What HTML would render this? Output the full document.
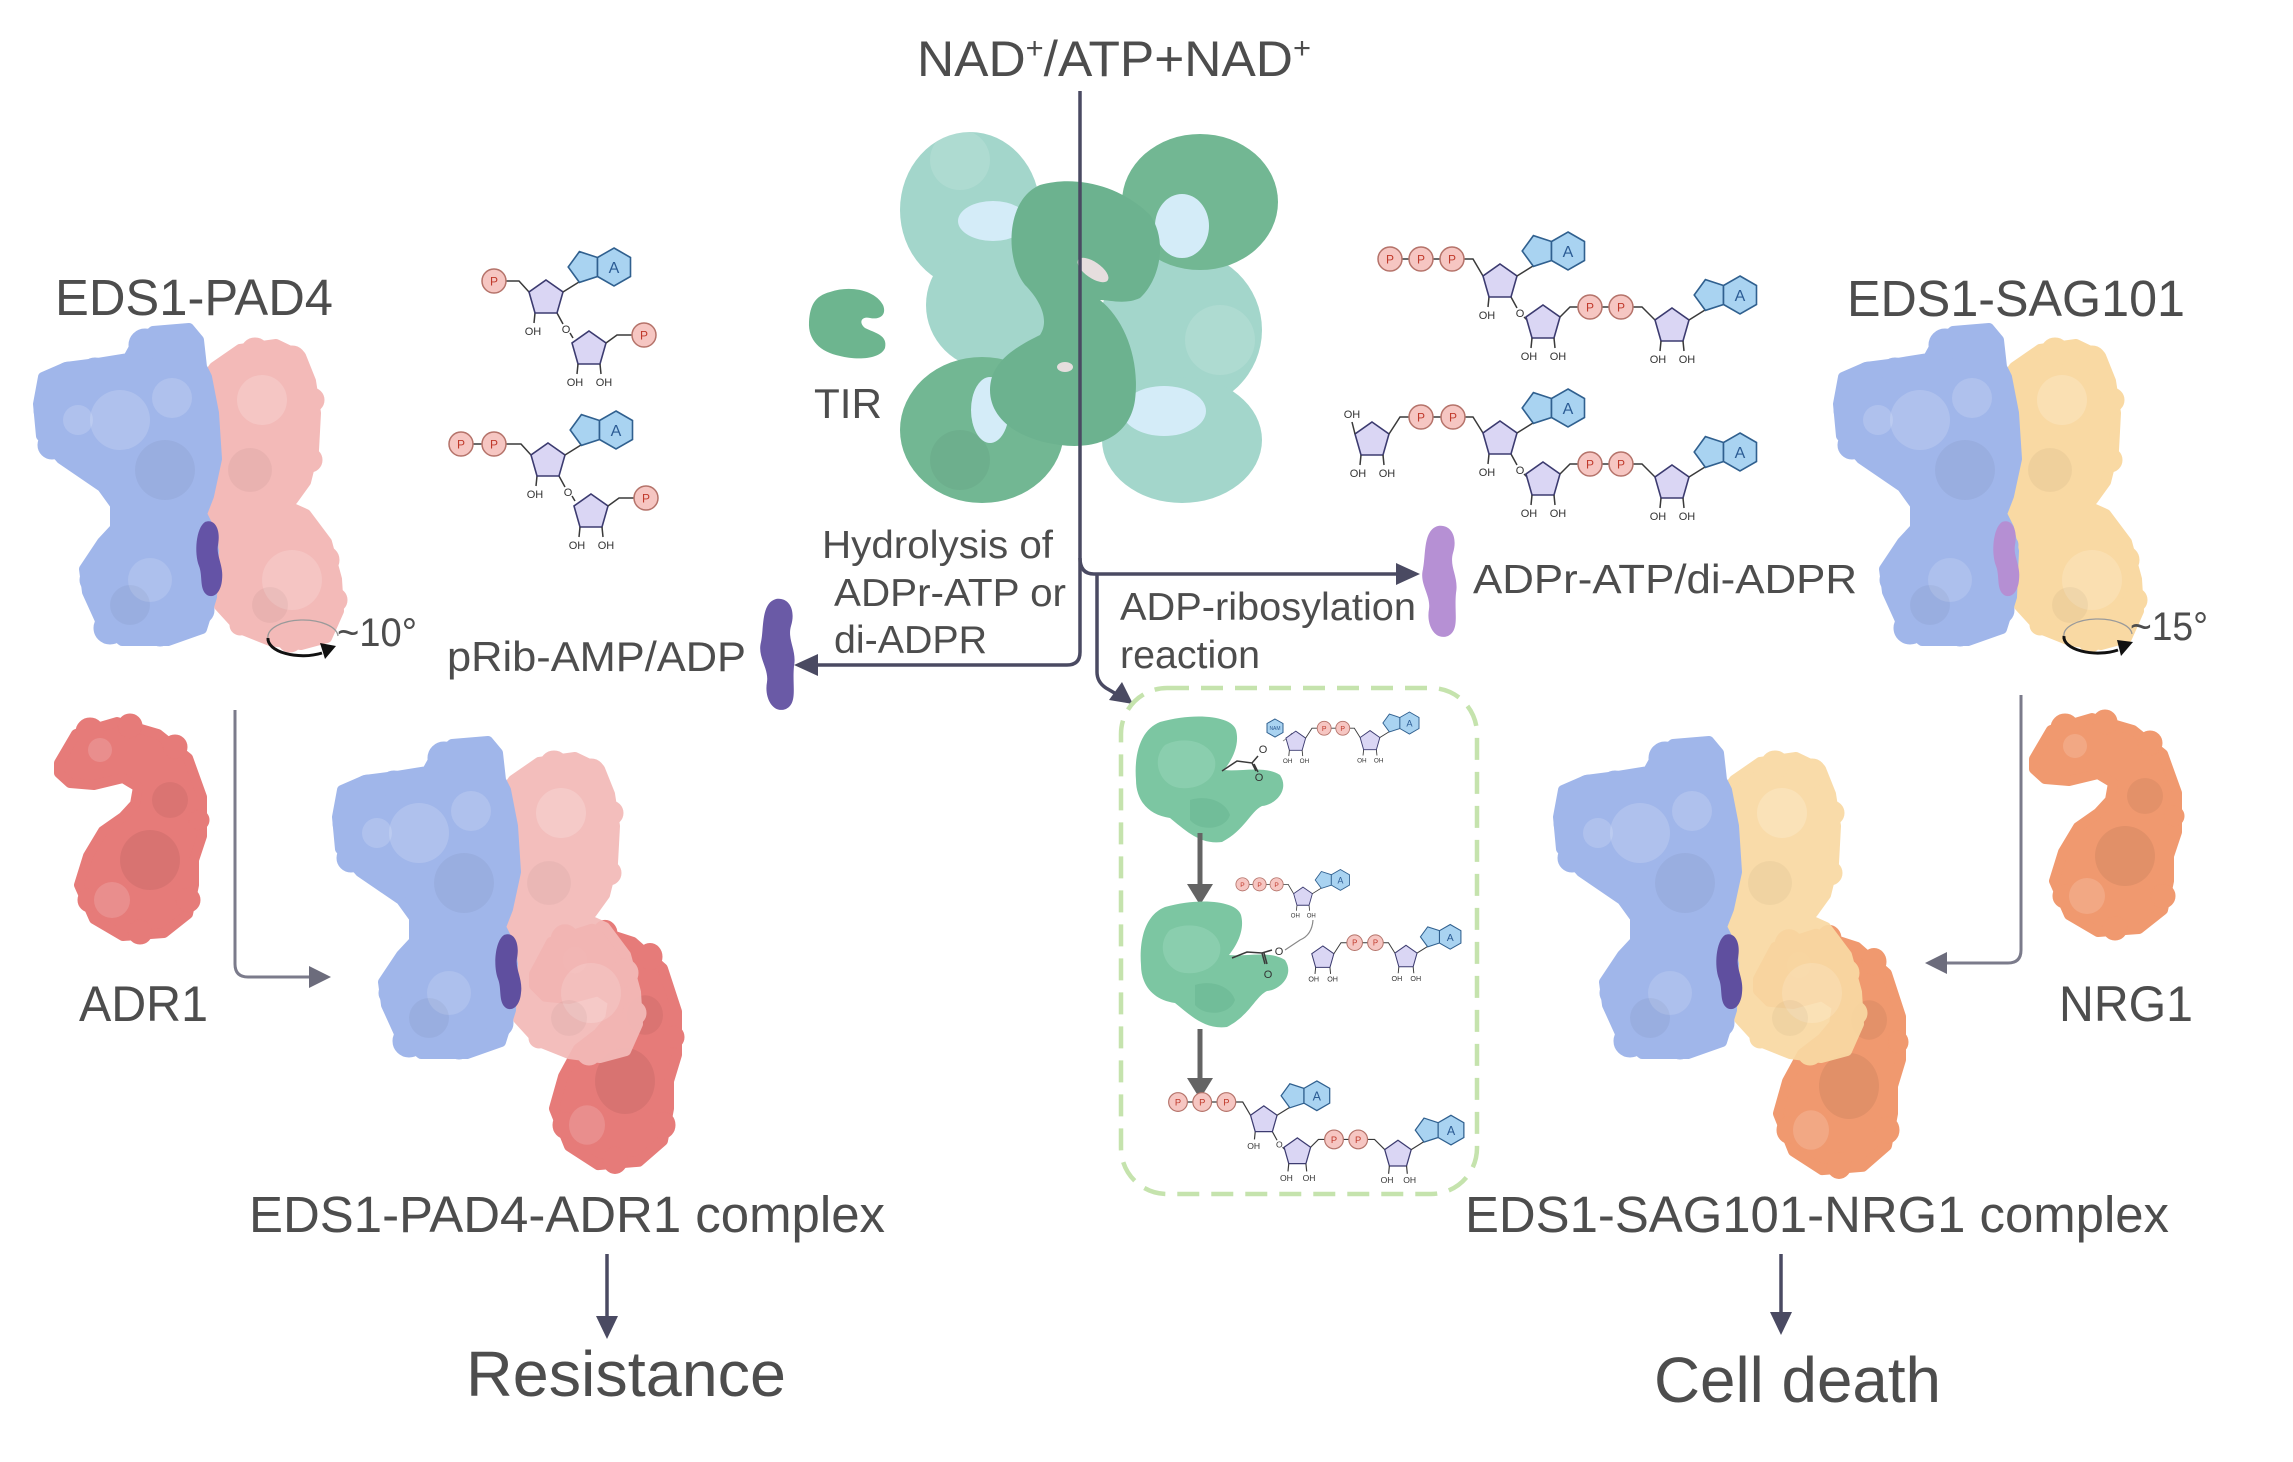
<!DOCTYPE html>
<html><head><meta charset="utf-8">
<style>
html,body{margin:0;padding:0;background:#fff;}
svg{display:block;}
.t{font-family:"Liberation Sans",Arial,sans-serif;fill:#4d4d4d;}
.bd{stroke:#3a3a3a;stroke-width:1.5;fill:none;}
.pt{font-family:"Liberation Sans",sans-serif;font-size:12px;fill:#c0392b;text-anchor:middle;}
.at{font-family:"Liberation Sans",sans-serif;font-size:16px;fill:#2b5b94;text-anchor:middle;}
.oh{font-family:"Liberation Sans",sans-serif;font-size:11px;fill:#333;text-anchor:middle;}
.cn{stroke:#4a4a62;stroke-width:3.5;fill:none;}
.cg{stroke:#7b7b8b;stroke-width:3;fill:none;}
</style></head>
<body>
<svg width="2293" height="1462" viewBox="0 0 2293 1462" xmlns="http://www.w3.org/2000/svg">
<defs>
<polygon id="rib" points="0,-18 17,-6 11,15 -11,15 -17,-6" fill="#dad6f4" stroke="#3c3b70" stroke-width="1.6"/>
<g id="ado">
<polygon points="0,-18 17,-6 11,15 -11,15 -17,-6" fill="#dad6f4" stroke="#3c3b70" stroke-width="1.6"/>
<path d="M17,-6 L33,-16" stroke="#3a3a3a" stroke-width="1.5" fill="none"/>
<polygon points="51.5,-40.5 33.4,-46.4 22.2,-31 33.4,-15.6 51.5,-21.5" fill="#a9d3f1" stroke="#30608f" stroke-width="1.6"/>
<polygon points="68,-50 84.5,-40.5 84.5,-21.5 68,-12 51.5,-21.5 51.5,-40.5" fill="#a9d3f1" stroke="#30608f" stroke-width="1.6"/>
</g>
<circle id="pp" r="12" fill="#f6c6c2" stroke="#b5736a" stroke-width="1.5"/>

<g id="eds1">
<polygon stroke-width="10" stroke-linejoin="round" points="133,349 153,331 189,328 199,340 202,367 207,377 214,413 217,459 209,496 202,514 209,528 214,551 212,597 202,629 168,641 122,641 102,625 87,592 84,569 102,542 115,528 115,505 102,487 61,459 41,436 38,404 43,377 66,367 97,363 128,358"/>
<circle cx="145" cy="345" r="16"/><circle cx="180" cy="340" r="14"/><circle cx="70" cy="380" r="18"/><circle cx="48" cy="410" r="14"/><circle cx="52" cy="445" r="14"/><circle cx="95" cy="372" r="14"/><circle cx="110" cy="628" r="16"/><circle cx="160" cy="634" r="12"/><circle cx="200" cy="610" r="14"/><circle cx="92" cy="580" r="12"/><circle cx="208" cy="545" r="10"/>
<circle cx="120" cy="420" r="30" fill="#fff" fill-opacity=".16" stroke="none"/><circle cx="172" cy="398" r="20" fill="#fff" fill-opacity=".16" stroke="none"/><circle cx="150" cy="580" r="22" fill="#fff" fill-opacity=".14" stroke="none"/><circle cx="78" cy="420" r="15" fill="#fff" fill-opacity=".16" stroke="none"/>
<circle cx="165" cy="470" r="30" fill="#000" fill-opacity=".04" stroke="none"/><circle cx="130" cy="605" r="20" fill="#000" fill-opacity=".04" stroke="none"/>
</g>
<g id="pad4">
<polygon stroke-width="10" stroke-linejoin="round" points="214,367 240,349 276,344 301,356 311,381 316,413 314,450 306,482 293,500 286,505 306,514 327,542 337,579 339,611 327,638 301,645 270,641 240,629 219,606 219,574 217,551 204,528 196,510 199,487 204,459 209,413 207,377"/>
<circle cx="255" cy="352" r="14"/><circle cx="292" cy="360" r="14"/><circle cx="312" cy="400" r="12"/><circle cx="310" cy="460" r="12"/><circle cx="325" cy="560" r="14"/><circle cx="335" cy="600" r="12"/><circle cx="290" cy="640" r="12"/><circle cx="240" cy="625" r="10"/>
<circle cx="262" cy="400" r="25" fill="#fff" fill-opacity=".18" stroke="none"/><circle cx="292" cy="580" r="30" fill="#fff" fill-opacity=".16" stroke="none"/>
<circle cx="250" cy="470" r="22" fill="#000" fill-opacity=".04" stroke="none"/><circle cx="270" cy="605" r="18" fill="#000" fill-opacity=".04" stroke="none"/>
</g>
<g id="hook">
<polygon stroke-width="10" stroke-linejoin="round" points="59,763 76,734 117,722 158,734 188,758 202,797 202,836 194,860 194,885 188,914 164,933 123,936 94,919 79,885 88,856 103,831 123,817 135,804 138,787 123,778 94,785 70,783 59,773"/>
<circle cx="90" cy="732" r="14"/><circle cx="130" cy="726" r="12"/><circle cx="175" cy="747" r="12"/><circle cx="199" cy="820" r="10"/><circle cx="188" cy="900" r="12"/><circle cx="140" cy="932" r="12"/><circle cx="90" cy="900" r="12"/>
<circle cx="150" cy="860" r="30" fill="#000" fill-opacity=".06" stroke="none"/><circle cx="170" cy="800" r="18" fill="#000" fill-opacity=".05" stroke="none"/>
<circle cx="112" cy="900" r="18" fill="#fff" fill-opacity=".15" stroke="none"/><circle cx="100" cy="750" r="12" fill="#fff" fill-opacity=".15" stroke="none"/>
</g>
<path id="stick" d="M205,522 C215,518 221,530 218,545 C216,556 224,566 222,580 C221,592 214,599 207,595 C199,589 203,576 199,566 C194,553 196,528 205,522 Z"/>
<path id="mol" d="M776,599 C789,597 796,610 791,626 C787,640 797,650 794,666 C792,686 798,703 786,709 C773,714 764,698 767,682 C769,668 757,657 761,642 C764,628 761,603 776,599 Z"/>
<path id="tirp" d="M1160,722 C1195,712 1232,716 1236,730 C1240,745 1232,760 1224,770 C1240,772 1265,765 1280,775 C1290,790 1275,805 1262,806 C1250,812 1245,830 1222,842 C1200,845 1185,830 1170,818 C1148,815 1136,800 1136,780 C1134,755 1140,730 1160,722 Z"/>
</defs>

<rect width="2293" height="1462" fill="#fff"/>

<!-- ============ TOP LEFT: EDS1-PAD4 ============ -->
<text class="t" x="55" y="315" font-size="51" textLength="278" lengthAdjust="spacingAndGlyphs">EDS1-PAD4</text>
<use href="#pad4" fill="#f3bab8" stroke="#f3bab8"/>
<use href="#eds1" fill="#a0b6ea" stroke="#a0b6ea"/>
<use href="#stick" fill="#6453a6"/>
<path d="M268,638 A35,17 0 0 1 338,636" stroke="#9a9a9a" stroke-width="1.3" fill="none"/>
<path d="M268,638 A35,17 0 0 0 322,653" stroke="#111" stroke-width="3" fill="none"/>
<polygon points="336,646 320,643 325,659" fill="#111"/>
<text class="t" x="337" y="646" font-size="40" textLength="80" lengthAdjust="spacingAndGlyphs">~10°</text>

<!-- left chem structures -->
<g transform="translate(546,298)">
<path class="bd" d="M-40,-17 H-27 L-17,-6 M-11,15 L-12,25 M11,15 L17,26 M24,35 L27,40"/>
<use href="#pp" x="-52" y="-17"/><text class="pt" x="-52" y="-12.5">P</text>
<use href="#ado"/><text class="at" x="68" y="-25">A</text>
<text class="oh" x="-13" y="37">OH</text><text class="oh" x="20" y="35">O</text>
<g transform="translate(43,51)">
<use href="#rib"/>
<path class="bd" d="M-11,15 L-12,25 M11,15 L12,25 M17,-6 L28,-14 H43"/>
<text class="oh" x="-14" y="37">OH</text><text class="oh" x="15" y="37">OH</text>
<use href="#pp" x="55" y="-14"/><text class="pt" x="55" y="-9.5">P</text>
</g>
</g>
<g transform="translate(548,461)">
<path class="bd" d="M-75,-17 H-66 M-42,-17 H-27 L-17,-6 M-11,15 L-12,25 M11,15 L17,26 M24,35 L27,40"/>
<use href="#pp" x="-87" y="-17"/><text class="pt" x="-87" y="-12.5">P</text>
<use href="#pp" x="-54" y="-17"/><text class="pt" x="-54" y="-12.5">P</text>
<use href="#ado"/><text class="at" x="68" y="-25">A</text>
<text class="oh" x="-13" y="37">OH</text><text class="oh" x="20" y="35">O</text>
<g transform="translate(43,51)">
<use href="#rib"/>
<path class="bd" d="M-11,15 L-12,25 M11,15 L12,25 M17,-6 L28,-14 H43"/>
<text class="oh" x="-14" y="37">OH</text><text class="oh" x="15" y="37">OH</text>
<use href="#pp" x="55" y="-14"/><text class="pt" x="55" y="-9.5">P</text>
</g>
</g>

<text class="t" x="447" y="671" font-size="42" textLength="299" lengthAdjust="spacingAndGlyphs">pRib-AMP/ADP</text>
<use href="#mol" fill="#6a5aa6"/>

<!-- ============ CENTER: TIR ============ -->
<path d="M830,292 C850,285 875,290 883,305 C887,315 880,320 870,318 C862,316 858,322 865,328 C875,333 888,335 885,348 C880,360 855,360 840,356 C820,352 808,340 809,322 C810,305 815,296 830,292 Z" fill="#6db58f"/>
<text class="t" x="814" y="418" font-size="42" textLength="68" lengthAdjust="spacingAndGlyphs">TIR</text>

<g>
<ellipse cx="970" cy="210" rx="70" ry="78" fill="#a3d6cb"/>
<ellipse cx="990" cy="305" rx="64" ry="64" fill="#a3d6cb"/>
<ellipse cx="1180" cy="330" rx="82" ry="80" fill="#a3d6cb"/>
<ellipse cx="1182" cy="440" rx="80" ry="63" fill="#a3d6cb"/>
<ellipse cx="1200" cy="202" rx="78" ry="68" fill="#72b793"/>
<ellipse cx="982" cy="430" rx="82" ry="73" fill="#72b793"/>
<ellipse cx="993" cy="221" rx="35" ry="20" fill="#d4ecf8"/>
<ellipse cx="1182" cy="226" rx="27" ry="32" fill="#d4ecf8"/>
<ellipse cx="990" cy="410" rx="19" ry="33" fill="#d4ecf8"/>
<ellipse cx="1164" cy="411" rx="42" ry="25" fill="#d4ecf8"/>
<path d="M1040,185 C1075,175 1120,185 1150,215 C1168,240 1160,280 1140,298 C1125,305 1110,300 1100,300 C1125,320 1140,360 1135,400 C1130,435 1100,450 1060,445 C1020,440 990,420 990,390 C990,360 1020,345 1040,335 C1050,320 1040,300 1025,285 C1005,260 1005,200 1040,185 Z" fill="#6cb28f"/>
<ellipse cx="1093" cy="270" rx="18" ry="8" transform="rotate(35 1093 270)" fill="#e6dede"/>
<ellipse cx="1065" cy="367" rx="8" ry="5" fill="#e6dede"/>
<circle cx="960" cy="160" r="30" fill="#fff" fill-opacity=".12"/>
<circle cx="1220" cy="340" r="35" fill="#fff" fill-opacity=".12"/>
<circle cx="960" cy="460" r="30" fill="#000" fill-opacity=".04"/>
</g>

<!-- main connectors -->
<path class="cn" d="M1080,91 V652 Q1080,665 1067,665 H816"/>
<polygon points="794,665 818,654 818,676" fill="#4a4a62"/>
<path class="cn" d="M1080,558 Q1080,574 1094,574 H1398"/>
<polygon points="1420,574 1396,563 1396,585" fill="#4a4a62"/>
<path class="cn" d="M1097,574 V672 Q1097,682 1106,688 L1118,695"/>
<polygon points="1133,704 1109,700 1122,682" fill="#4a4a62"/>

<text class="t" x="822" y="558" font-size="39" textLength="231" lengthAdjust="spacingAndGlyphs">Hydrolysis of</text>
<text class="t" x="834" y="606" font-size="39" textLength="232" lengthAdjust="spacingAndGlyphs">ADPr-ATP or</text>
<text class="t" x="834" y="653" font-size="39" textLength="153" lengthAdjust="spacingAndGlyphs">di-ADPR</text>
<text class="t" x="1120" y="620" font-size="39" textLength="296" lengthAdjust="spacingAndGlyphs">ADP-ribosylation</text>
<text class="t" x="1120" y="668" font-size="39" textLength="140" lengthAdjust="spacingAndGlyphs">reaction</text>

<text class="t" x="917" y="76" font-size="50" textLength="394" lengthAdjust="spacingAndGlyphs">NAD<tspan font-size="30" dy="-18">+</tspan><tspan dy="18">/ATP+NAD</tspan><tspan font-size="30" dy="-18">+</tspan></text>

<!-- ============ RIGHT chem ============ -->
<g transform="translate(1500,282)">
<path class="bd" d="M-98,-23 H-91 M-67,-23 H-60 M-36,-23 H-27 L-17,-6 M-11,15 L-12,25 M11,15 L17,26 M24,35 L27,38"/>
<use href="#pp" x="-110" y="-23"/><text class="pt" x="-110" y="-18.5">P</text>
<use href="#pp" x="-79" y="-23"/><text class="pt" x="-79" y="-18.5">P</text>
<use href="#pp" x="-48" y="-23"/><text class="pt" x="-48" y="-18.5">P</text>
<use href="#ado"/><text class="at" x="68" y="-25">A</text>
<text class="oh" x="-13" y="37">OH</text><text class="oh" x="20" y="35">O</text>
<g transform="translate(43,41)">
<use href="#rib"/>
<path class="bd" d="M-11,15 L-12,25 M11,15 L12,25 M17,-6 L27,-16 H35 M59,-16 H66 M90,-16 H99 L112,-3"/>
<text class="oh" x="-14" y="37">OH</text><text class="oh" x="15" y="37">OH</text>
<use href="#pp" x="47" y="-16"/><text class="pt" x="47" y="-11.5">P</text>
<use href="#pp" x="78" y="-16"/><text class="pt" x="78" y="-11.5">P</text>
<g transform="translate(129,3)">
<use href="#ado"/><text class="at" x="68" y="-25">A</text>
<path class="bd" d="M-11,15 L-12,25 M11,15 L12,25"/>
<text class="oh" x="-14" y="37">OH</text><text class="oh" x="15" y="37">OH</text>
</g>
</g>
</g>
<g transform="translate(1500,439)">
<g transform="translate(-128,1)">
<use href="#rib"/>
<path class="bd" d="M-17,-6 L-20,-18 M-11,15 L-12,25 M11,15 L12,25 M17,-6 L28,-23 H37"/>
<text class="oh" x="-20" y="-22">OH</text><text class="oh" x="-14" y="37">OH</text><text class="oh" x="15" y="37">OH</text>
</g>
<path class="bd" d="M-67,-22 H-59 M-35,-22 H-27 L-17,-6 M-11,15 L-12,25 M11,15 L17,26 M24,35 L27,38"/>
<use href="#pp" x="-79" y="-22"/><text class="pt" x="-79" y="-17.5">P</text>
<use href="#pp" x="-47" y="-22"/><text class="pt" x="-47" y="-17.5">P</text>
<use href="#ado"/><text class="at" x="68" y="-25">A</text>
<text class="oh" x="-13" y="37">OH</text><text class="oh" x="20" y="35">O</text>
<g transform="translate(43,41)">
<use href="#rib"/>
<path class="bd" d="M-11,15 L-12,25 M11,15 L12,25 M17,-6 L27,-16 H35 M59,-16 H66 M90,-16 H99 L112,-3"/>
<text class="oh" x="-14" y="37">OH</text><text class="oh" x="15" y="37">OH</text>
<use href="#pp" x="47" y="-16"/><text class="pt" x="47" y="-11.5">P</text>
<use href="#pp" x="78" y="-16"/><text class="pt" x="78" y="-11.5">P</text>
<g transform="translate(129,3)">
<use href="#ado"/><text class="at" x="68" y="-25">A</text>
<path class="bd" d="M-11,15 L-12,25 M11,15 L12,25"/>
<text class="oh" x="-14" y="37">OH</text><text class="oh" x="15" y="37">OH</text>
</g>
</g>
</g>

<use href="#mol" fill="#b690d4" transform="translate(662,-73)"/>
<text class="t" x="1473" y="593" font-size="41" textLength="384" lengthAdjust="spacingAndGlyphs">ADPr-ATP/di-ADPR</text>

<!-- ============ TOP RIGHT: EDS1-SAG101 ============ -->
<text class="t" x="1847" y="316" font-size="51" textLength="338" lengthAdjust="spacingAndGlyphs">EDS1-SAG101</text>
<g transform="translate(1800,0)">
<use href="#pad4" fill="#f9d9a3" stroke="#f9d9a3"/>
<use href="#eds1" fill="#a0b6ea" stroke="#a0b6ea"/>
<use href="#stick" fill="#b58fd3" transform="translate(-3,0)"/>
</g>
<path d="M2064,636 A34,16 0 0 1 2132,634" stroke="#9a9a9a" stroke-width="1.3" fill="none"/>
<path d="M2064,636 A34,16 0 0 0 2118,650" stroke="#111" stroke-width="3" fill="none"/>
<polygon points="2133,642 2117,640 2121,656" fill="#111"/>
<text class="t" x="2130" y="640" font-size="40" textLength="78" lengthAdjust="spacingAndGlyphs">~15°</text>

<!-- ============ DASHED BOX ============ -->
<rect x="1121" y="688" width="356" height="506" rx="46" ry="46" fill="none" stroke="#c5e3ad" stroke-width="4.5" stroke-dasharray="22 12"/>

<use href="#tirp" fill="#7cc6a2"/>
<path d="M1165,745 C1185,735 1210,742 1215,760 C1218,778 1200,790 1180,788 C1160,786 1150,760 1165,745 Z" fill="#94d3b5" opacity=".6"/>
<path d="M1190,800 C1205,795 1225,800 1230,815 C1225,830 1200,832 1190,820 Z" fill="#6ab892" opacity=".6"/>
<path class="bd" d="M1222,771 L1237,761 L1252,763 L1258,756 M1252,763 L1256,771 M1254,764 L1258,772"/>
<text class="oh" x="1263" y="753">O</text><text class="oh" x="1259" y="781">O</text>
<polygon points="1275,719 1283,723.5 1283,732.5 1275,737 1267,732.5 1267,723.5" fill="#a9d3f1" stroke="#30608f" stroke-width="1"/>
<text x="1275" y="730" font-family="Liberation Sans,sans-serif" font-size="5" fill="#2b5b94" text-anchor="middle">NAM</text>
<path d="M1283,741 Q1288,738 1292,733" stroke="#888" stroke-width="1" fill="none"/>

<g transform="translate(1370,741) scale(0.58)">
<g transform="translate(-128,1)">
<use href="#rib"/>
<path class="bd" d="M-11,15 L-12,25 M11,15 L12,25 M17,-6 L28,-23 H37"/>
<text class="oh" x="-14" y="37">OH</text><text class="oh" x="15" y="37">OH</text>
</g>
<path class="bd" d="M-67,-22 H-59 M-35,-22 H-27 L-17,-6 M-11,15 L-12,25 M11,15 L12,25"/>
<use href="#pp" x="-79" y="-22"/><text class="pt" x="-79" y="-17.5">P</text>
<use href="#pp" x="-47" y="-22"/><text class="pt" x="-47" y="-17.5">P</text>
<use href="#ado"/><text class="at" x="68" y="-25">A</text>
<text class="oh" x="-14" y="37">OH</text><text class="oh" x="15" y="37">OH</text>
</g>

<path d="M1200,833 V886" stroke="#646464" stroke-width="5"/>
<polygon points="1187,884 1213,884 1200,905" fill="#646464"/>

<g transform="translate(1303,897) scale(0.55)">
<path class="bd" d="M-98,-23 H-91 M-67,-23 H-60 M-36,-23 H-27 L-17,-6 M-11,15 L-12,25 M11,15 L12,25"/>
<use href="#pp" x="-110" y="-23"/><text class="pt" x="-110" y="-18.5">P</text>
<use href="#pp" x="-79" y="-23"/><text class="pt" x="-79" y="-18.5">P</text>
<use href="#pp" x="-48" y="-23"/><text class="pt" x="-48" y="-18.5">P</text>
<use href="#ado"/><text class="at" x="68" y="-25">A</text>
<text class="oh" x="-14" y="37">OH</text><text class="oh" x="15" y="37">OH</text>
</g>
<path d="M1313,920 Q1312,935 1300,940 L1285,950" stroke="#888" stroke-width="1.2" fill="none"/>

<use href="#tirp" fill="#7cc6a2" transform="translate(5,185)"/>
<path d="M1170,930 C1190,920 1215,927 1220,945 C1223,963 1205,975 1185,973 C1165,971 1155,945 1170,930 Z" fill="#94d3b5" opacity=".6"/>
<path d="M1195,985 C1210,980 1230,985 1235,1000 C1230,1015 1205,1017 1195,1005 Z" fill="#6ab892" opacity=".6"/>
<path class="bd" d="M1232,958 L1247,952 L1262,953 L1272,950 M1262,953 L1265,964 M1264,953 L1267,964"/>
<text class="oh" x="1279" y="955">O</text><text class="oh" x="1268" y="978">O</text>

<g transform="translate(1406,957) scale(0.65)">
<g transform="translate(-128,1)">
<use href="#rib"/>
<path class="bd" d="M-11,15 L-12,25 M11,15 L12,25 M17,-6 L28,-23 H37"/>
<text class="oh" x="-14" y="37">OH</text><text class="oh" x="15" y="37">OH</text>
</g>
<path class="bd" d="M-67,-22 H-59 M-35,-22 H-27 L-17,-6 M-11,15 L-12,25 M11,15 L12,25"/>
<use href="#pp" x="-79" y="-22"/><text class="pt" x="-79" y="-17.5">P</text>
<use href="#pp" x="-47" y="-22"/><text class="pt" x="-47" y="-17.5">P</text>
<use href="#ado"/><text class="at" x="68" y="-25">A</text>
<text class="oh" x="-14" y="37">OH</text><text class="oh" x="15" y="37">OH</text>
</g>

<path d="M1200,1029 V1080" stroke="#646464" stroke-width="5"/>
<polygon points="1187,1078 1213,1078 1200,1099" fill="#646464"/>

<g transform="translate(93.8,900) scale(0.78)">
<g transform="translate(1500,282)">
<path class="bd" d="M-98,-23 H-91 M-67,-23 H-60 M-36,-23 H-27 L-17,-6 M-11,15 L-12,25 M11,15 L17,26 M24,35 L27,38"/>
<use href="#pp" x="-110" y="-23"/><text class="pt" x="-110" y="-18.5">P</text>
<use href="#pp" x="-79" y="-23"/><text class="pt" x="-79" y="-18.5">P</text>
<use href="#pp" x="-48" y="-23"/><text class="pt" x="-48" y="-18.5">P</text>
<use href="#ado"/><text class="at" x="68" y="-25">A</text>
<text class="oh" x="-13" y="37">OH</text><text class="oh" x="20" y="35">O</text>
<g transform="translate(43,41)">
<use href="#rib"/>
<path class="bd" d="M-11,15 L-12,25 M11,15 L12,25 M17,-6 L27,-16 H35 M59,-16 H66 M90,-16 H99 L112,-3"/>
<text class="oh" x="-14" y="37">OH</text><text class="oh" x="15" y="37">OH</text>
<use href="#pp" x="47" y="-16"/><text class="pt" x="47" y="-11.5">P</text>
<use href="#pp" x="78" y="-16"/><text class="pt" x="78" y="-11.5">P</text>
<g transform="translate(129,3)">
<use href="#ado"/><text class="at" x="68" y="-25">A</text>
<path class="bd" d="M-11,15 L-12,25 M11,15 L12,25"/>
<text class="oh" x="-14" y="37">OH</text><text class="oh" x="15" y="37">OH</text>
</g>
</g>
</g>
</g>

<!-- ============ BOTTOM LEFT ============ -->
<use href="#hook" fill="#e67b79" stroke="#e67b79"/>
<text class="t" x="79" y="1021" font-size="50" textLength="129" lengthAdjust="spacingAndGlyphs">ADR1</text>

<path class="cg" d="M235,710 V964 Q235,977 248,977 H310"/>
<polygon points="331,977 309,966 309,988" fill="#6c6c7c"/>

<use href="#hook" fill="#e67b79" stroke="#e67b79" transform="translate(475,135) scale(1,1.1)"/>
<g transform="translate(299,413)">
<use href="#pad4" fill="#f3bab8" stroke="#f3bab8" opacity=".93"/>
<use href="#eds1" fill="#a0b6ea" stroke="#a0b6ea"/>
<use href="#stick" fill="#5f4f9f"/>
</g>

<text class="t" x="249" y="1232" font-size="51" textLength="636" lengthAdjust="spacingAndGlyphs">EDS1-PAD4-ADR1 complex</text>
<path class="cn" d="M607,1254 V1318" stroke-width="3"/>
<polygon points="607,1339 596,1316 618,1316" fill="#4a4a62"/>
<text class="t" x="466" y="1396" font-size="64" textLength="320" lengthAdjust="spacingAndGlyphs">Resistance</text>

<!-- ============ BOTTOM RIGHT ============ -->
<use href="#hook" fill="#f0996f" stroke="#f0996f" transform="translate(1975,-4)"/>
<text class="t" x="2059" y="1021" font-size="50" textLength="134" lengthAdjust="spacingAndGlyphs">NRG1</text>

<path class="cg" d="M2021,695 V950 Q2021,963 2008,963 H1947"/>
<polygon points="1925,963 1947,952 1947,974" fill="#6c6c7c"/>

<use href="#hook" fill="#f0996f" stroke="#f0996f" transform="translate(1699,140) scale(1,1.1)"/>
<g transform="translate(1520,413)">
<use href="#pad4" fill="#f9d9a3" stroke="#f9d9a3" opacity=".93"/>
<use href="#eds1" fill="#a0b6ea" stroke="#a0b6ea"/>
<use href="#stick" fill="#5f4f9f"/>
</g>

<text class="t" x="1465" y="1232" font-size="51" textLength="704" lengthAdjust="spacingAndGlyphs">EDS1-SAG101-NRG1 complex</text>
<path class="cn" d="M1781,1254 V1314" stroke-width="3"/>
<polygon points="1781,1335 1770,1312 1792,1312" fill="#4a4a62"/>
<text class="t" x="1654" y="1402" font-size="64" textLength="287" lengthAdjust="spacingAndGlyphs">Cell death</text>
</svg>
</body></html>
